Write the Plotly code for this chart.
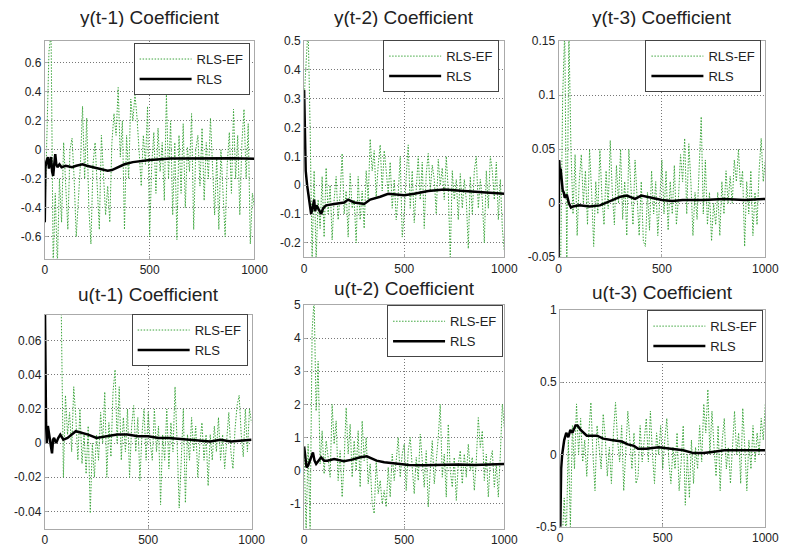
import plotly.graph_objects as go

W, H = 794, 556

TITLES = ["y(t-1) Coefficient", "y(t-2) Coefficient", "y(t-3) Coefficient",
          "u(t-1) Coefficient", "u(t-2) Coefficient", "u(t-3) Coefficient"]
SERIES_NAMES = ["RLS-EF", "RLS"]

# ---- RLS-EF (green dotted) estimates, sampled every 10 steps ----
G1 = [-0.5, 0.1, 0.68, 0.8, -0.8, -0.3, -0.8, -0.2, -0.5, 0.05,
      -0.3, -0.55, 0.0, 0.08, -0.2, -0.6, -0.35, -0.1, 0.3, -0.2,
      0.22, -0.4, -0.65, -0.1, 0.05, -0.3, -0.55, 0.1, -0.15, -0.45,
      -0.25, -0.5, 0.05, 0.25, 0.1, 0.43, -0.05, 0.2, -0.55, 0.1,
      -0.2, 0.35, 0.2, 0.38, 0.22, -0.05, -0.25, 0.1, -0.1, 0.3,
      -0.6, -0.1, 0.12, -0.3, 0.15, -0.15, 0.05, -0.35, 0.38, -0.2,
      0.2, -0.45, 0.05, -0.62, 0.1, -0.3, 0.18, -0.4, 0.02, -0.15,
      0.25, -0.55, 0.0, 0.1, -0.25, 0.15, -0.35, 0.05, -0.2, 0.22,
      -0.1, -0.45, -0.05, -0.55, 0.0, -0.35, -0.6, -0.1, 0.12, -0.3,
      0.28, -0.2, 0.1, -0.45, 0.05, 0.28, -0.2, 0.18, -0.65, -0.3,
      -0.4]
G2 = [0.3, 0.45, 0.55, 0.2, -0.26, 0.05, -0.26, -0.05, -0.15, 0.03,
      -0.18, 0.06, -0.1, 0.0, -0.19, -0.05, 0.03, -0.12, -0.03, 0.11,
      -0.1, -0.02, -0.18, 0.04, -0.08, -0.05, -0.2, 0.03, -0.12, -0.02,
      -0.15, 0.05, -0.05, 0.16, 0.05, 0.12, -0.04, 0.07, 0.14, -0.02,
      0.12, 0.05, -0.03, 0.08, -0.08, 0.02, -0.12, -0.03, 0.1, -0.18,
      -0.1, 0.03, 0.14, -0.08, 0.05, -0.13, 0.0, 0.1, -0.05, 0.08,
      -0.15, 0.04, 0.11, -0.02, 0.07, 0.02, -0.1, 0.09, 0.0, 0.06,
      -0.05, 0.1, -0.02, -0.25, 0.05, -0.05, 0.02, -0.12, 0.04, -0.08,
      0.02, -0.05, -0.22, 0.03, -0.1, 0.05, 0.1, -0.08, 0.02, -0.05,
      -0.2, 0.05, -0.08, 0.1, 0.05, -0.05, 0.08, -0.12, 0.02, -0.15,
      -0.23]
G3 = [-0.06, -0.06, 0.1, 0.16, -0.06, 0.16, 0.05, -0.01, 0.045, -0.03,
      0.02, 0.045, 0.0, 0.03, -0.02, 0.05, 0.01, -0.04, 0.02, -0.01,
      0.05, 0.005, -0.02, 0.03, -0.005, 0.058, 0.01, -0.02, 0.035, 0.0,
      0.05, -0.015, 0.02, -0.03, 0.05, 0.01, -0.02, 0.04, 0.0, -0.03,
      0.02, -0.035, -0.04, 0.01, -0.025, 0.03, -0.01, 0.02, -0.03, 0.0,
      0.04, -0.01, 0.03, -0.025, 0.02, -0.01, 0.035, -0.02, 0.005, 0.045,
      0.02, 0.06, -0.01, 0.055, 0.02, -0.03, 0.01, -0.015, 0.03, 0.08,
      -0.01, 0.04, -0.02, 0.01, -0.035, 0.0, -0.02, 0.01, -0.03, 0.02,
      -0.01, 0.03, 0.0, 0.025, 0.0, 0.04, 0.02, 0.05, 0.015, 0.03,
      -0.04, 0.02, -0.01, 0.03, -0.03, 0.01, -0.02, 0.03, 0.06, 0.02,
      0.04]
G4 = [0.1, 0.12, 0.1, 0.11, 0.1, 0.12, 0.1, 0.09, 0.075, -0.02,
      0.028, 0.005, 0.018, -0.005, 0.033, 0.015, -0.01, 0.02, -0.012, 0.005,
      -0.018, 0.01, -0.041, 0.0, -0.02, 0.005, -0.01, 0.018, 0.0, 0.03,
      -0.02, 0.012, -0.008, 0.03, 0.043, 0.0, 0.033, -0.01, 0.015, -0.005,
      0.02, -0.02, 0.01, 0.022, -0.005, 0.015, -0.022, 0.005, 0.02, -0.01,
      0.018, 0.0, -0.01, 0.02, -0.005, 0.01, -0.036, 0.005, -0.01, 0.02,
      -0.015, 0.012, -0.005, 0.033, 0.0, -0.038, -0.01, 0.02, -0.035, 0.005,
      -0.01, 0.015, -0.005, 0.01, -0.02, 0.0, 0.012, -0.01, 0.005, -0.025,
      0.005, -0.01, 0.01, -0.005, 0.015, -0.01, 0.005, -0.015, 0.002, 0.018,
      -0.005, -0.015, 0.008, 0.022, 0.028, 0.005, -0.008, 0.02, -0.005, 0.02,
      0.012]
G5 = [0.5, -1.8, 0.8, -1.8, 4.2, 5.2, 1.8, 3.3, 0.2, 1.2,
      -0.1, 0.9, 0.4, -0.2, 2.0, 0.8, 1.5, -0.3, 0.6, -0.8,
      0.3, 1.9, 0.5, 1.4, -0.2, 0.9, 0.0, 1.2, -0.5, 1.5,
      0.3, 1.0, -0.4, 0.2, -1.0, -1.3, 0.3, -0.7, -0.3, -1.0,
      -0.6, -1.1, 0.1, -0.8, 0.5, -0.3, 0.3, 1.0, -0.2, 0.5,
      0.8, -0.6, 0.6, 1.0, 0.1, -0.7, 0.4, -0.3, 1.1, 0.2,
      -0.5, 0.6, -1.1, 0.0, 0.9, -0.4, 0.3, 1.0, 2.0, -0.2,
      0.5, -0.8, 1.4, 0.0, -0.5, 0.4, -0.9, 0.2, 0.6, -0.4,
      0.5, -0.2, 0.8, 0.0, 0.4, -0.6, 0.3, 1.6, 0.7, 1.2,
      -0.3, 0.5, -0.8, 0.3, 0.6, -0.5, 0.2, -0.8, 0.5, 2.0,
      1.3]
G6 = [-0.6, -0.6, -0.3, -0.6, 0.1, -0.5, 0.2, -0.1, 0.35, 0.0,
      0.25, -0.05, 0.1, -0.15, 0.15, 0.36, 0.0, -0.25, 0.2, 0.05,
      -0.1, 0.28, 0.12, -0.15, 0.05, -0.2, 0.15, 0.36, 0.1, -0.05,
      0.2, -0.25, 0.05, 0.3, 0.1, -0.1, 0.15, -0.2, -0.15, 0.2,
      -0.05, 0.1, 0.25, -0.05, 0.3, 0.0, -0.2, 0.15, 0.0, 0.2,
      -0.1, 0.1, 0.25, -0.05, -0.2, 0.05, -0.1, 0.15, -0.25, -0.05,
      0.2, -0.35, 0.0, -0.3, 0.1, -0.2, 0.05, -0.1, 0.2, -0.05,
      0.35, 0.15, 0.45, 0.0, 0.3, 0.05, -0.15, 0.2, -0.25, 0.1,
      0.25, -0.1, 0.05, -0.2, 0.1, 0.3, 0.0, 0.15, -0.2, 0.32,
      0.05, -0.25, 0.1, -0.1, 0.2, -0.05, 0.15, 0.0, 0.25, 0.1,
      0.35]

# ---- RLS (black) estimates ----
R1_X = [0, 3, 8, 15, 20, 25, 30, 35, 40, 45, 50, 55, 60, 70, 80, 100, 130, 150, 180, 200,
        230, 260, 300, 320, 350, 380, 420, 460, 500, 600, 700, 800, 900, 1000]
R1_Y = [-0.5, -0.12, -0.08, -0.05, -0.13, -0.08, -0.05, -0.15, -0.18, -0.1,
        -0.03, -0.1, -0.12, -0.1, -0.12, -0.11, -0.12, -0.11, -0.1, -0.11,
        -0.12, -0.13, -0.145, -0.14, -0.12, -0.1, -0.085, -0.075, -0.07, -0.06,
        -0.06, -0.055, -0.058, -0.062]
R2_X = [0, 3, 8, 15, 25, 35, 42, 50, 55, 62, 70, 85, 95, 110, 150, 200, 220, 250, 300, 330,
        380, 420, 500, 550, 620, 700, 800, 900, 1000]
R2_Y = [0.33, 0.2, 0.05, 0.0, -0.05, -0.1, -0.08, -0.05, -0.09, -0.07,
        -0.08, -0.1, -0.08, -0.07, -0.065, -0.06, -0.05, -0.06, -0.065, -0.05,
        -0.04, -0.03, -0.035, -0.03, -0.02, -0.015, -0.02, -0.025, -0.03]
R3_X = [0, 3, 6, 10, 15, 20, 25, 30, 40, 50, 60, 70, 100, 150, 200, 250, 300, 330, 370, 400,
        450, 500, 550, 600, 700, 800, 900, 1000]
R3_Y = [-0.06, 0.04, 0.03, 0.032, 0.02, 0.012, 0.01, 0.005, 0.008, 0.0,
        -0.004, -0.003, -0.002, -0.003, -0.002, 0.002, 0.006, 0.007, 0.004, 0.007,
        0.005, 0.003, 0.002, 0.003, 0.003, 0.004, 0.003, 0.004]
R4_X = [0, 3, 6, 10, 15, 20, 25, 30, 35, 40, 45, 55, 65, 75, 90, 110, 150, 180, 210, 250,
        300, 350, 400, 450, 500, 550, 600, 700, 800, 850, 900, 1000]
R4_Y = [0.09, 0.028, 0.012, 0.0, 0.01, 0.006, 0.0, -0.002, -0.006, 0.002,
        0.003, 0.0, 0.003, 0.005, 0.002, 0.003, 0.007, 0.006, 0.005, 0.003,
        0.004, 0.005, 0.005, 0.004, 0.004, 0.003, 0.003, 0.002, 0.001, 0.002,
        0.001, 0.002]
R5_X = [0, 5, 12, 20, 30, 44, 52, 60, 72, 85, 100, 117, 150, 199, 240, 280, 313, 340, 362, 400,
        443, 524, 600, 671, 769, 850, 1000]
R5_Y = [0.73, 0.35, 0.1, 0.15, 0.3, 0.55, 0.3, 0.2, 0.3, 0.4,
        0.3, 0.3, 0.35, 0.28, 0.33, 0.4, 0.43, 0.35, 0.3, 0.25,
        0.22, 0.17, 0.16, 0.17, 0.18, 0.17, 0.2]
R6_X = [0, 5, 10, 20, 30, 40, 50, 60, 75, 85, 100, 130, 180, 210, 250, 300, 330, 360, 380, 420,
        480, 530, 600, 650, 700, 750, 800, 900, 1000]
R6_Y = [-0.6, -0.1, 0.0, 0.1, 0.15, 0.12, 0.17, 0.15, 0.2, 0.2,
        0.17, 0.13, 0.13, 0.11, 0.1, 0.09, 0.07, 0.06, 0.04, 0.04,
        0.05, 0.04, 0.03, 0.01, 0.01, 0.02, 0.03, 0.03, 0.03]

GREENS = [G1, G2, G3, G4, G5, G6]
RLS = [(R1_X, R1_Y), (R2_X, R2_Y), (R3_X, R3_Y), (R4_X, R4_Y), (R5_X, R5_Y), (R6_X, R6_Y)]

X_TICKS = [0, 500, 1000]
Y_RANGES = [[-0.75, 0.75], [-0.25, 0.5], [-0.05, 0.15],
            [-0.05, 0.075], [-1.75, 5], [-0.5, 1]]
Y_TICKS = [[-0.6, -0.4, -0.2, 0, 0.2, 0.4, 0.6],
           [-0.2, -0.1, 0, 0.1, 0.2, 0.3, 0.4, 0.5],
           [-0.05, 0, 0.05, 0.1, 0.15],
           [-0.04, -0.02, 0, 0.02, 0.04, 0.06],
           [-1, 0, 1, 2, 3, 4, 5],
           [-0.5, 0, 0.5, 1]]
Y_LABELS = [["-0.6", "-0.4", "-0.2", "0", "0.2", "0.4", "0.6"],
            ["-0.2", "-0.1", "0", "0.1", "0.2", "0.3", "0.4", "0.5"],
            ["-0.05", "0", "0.05", "0.1", "0.15"],
            ["-0.04", "-0.02", "0", "0.02", "0.04", "0.06"],
            ["-1", "0", "1", "2", "3", "4", "5"],
            ["-0.5", "0", "0.5", "1"]]

# pixel boxes of the six axes (left, right, top, bottom)
BOXES = [(42.7, 257, 35, 258), (307.7, 512.3, 35, 256.7), (567.7, 779, 35, 256.7),
         (42.7, 254, 316, 535), (307.7, 512.3, 305.7, 535), (569.3, 779, 310.7, 533.3)]
TITLE_Y = [10, 10, 10, 294, 288, 292]
LEG_BOX = [(252, 37), (507, 34), (775, 34), (250, 315), (511, 306), (777, 311)]

FONT = "Liberation Sans, Arial, sans-serif"
fig = go.Figure()
layout = dict(width=W, height=H, autosize=False,
              margin=dict(l=0, r=0, t=0, b=0),
              paper_bgcolor="white", plot_bgcolor="white",
              font=dict(family=FONT, size=12, color="#222"),
              annotations=[])

for i in range(6):
    n = "" if i == 0 else str(i + 1)
    leg = "legend" + n
    g = GREENS[i]
    gx = [10 * k for k in range(len(g))]
    fig.add_trace(go.Scatter(x=gx, y=g, mode="lines", name=SERIES_NAMES[0],
                             line=dict(color="rgb(60,165,60)", width=1, dash="1.5px,1.5px"),
                             xaxis="x" + n, yaxis="y" + n, legend=leg))
    rx, ry = RLS[i]
    fig.add_trace(go.Scatter(x=rx, y=ry, mode="lines", name=SERIES_NAMES[1],
                             line=dict(color="black", width=2.5),
                             xaxis="x" + n, yaxis="y" + n, legend=leg))
    l, r, t, b = BOXES[i]
    common = dict(showgrid=True, gridcolor="#777", griddash="1px,2px", gridwidth=1,
                  showline=True, linecolor="#aaa", linewidth=1, mirror=True,
                  ticks="inside", ticklen=3, tickcolor="#aaa", zeroline=False,
                  tickfont=dict(family=FONT, size=12, color="#222"))
    layout["xaxis" + n] = dict(domain=[l / W, r / W], anchor="y" + n, range=[0, 1000],
                               tickvals=X_TICKS, ticktext=[str(v) for v in X_TICKS], **common)
    layout["yaxis" + n] = dict(domain=[1 - b / H, 1 - t / H], anchor="x" + n,
                               range=Y_RANGES[i], tickvals=Y_TICKS[i],
                               ticktext=Y_LABELS[i], **common)
    lx, ly = LEG_BOX[i]
    layout[leg] = dict(x=lx / W, y=1 - ly / H, xanchor="right", yanchor="top",
                       xref="paper", yref="paper",
                       bgcolor="white", bordercolor="#444", borderwidth=1,
                       font=dict(family=FONT, size=13, color="#222"),
                       itemwidth=52)
    layout["annotations"].append(dict(text=TITLES[i], x=(l + r) / 2 / W, y=1 - TITLE_Y[i] / H,
                                      xref="paper", yref="paper", showarrow=False,
                                      xanchor="center", yanchor="middle", height=20,
                                      valign="middle",
                                      font=dict(family=FONT, size=19, color="#222")))

fig.update_layout(**layout)
fig.write_html("out.html")
